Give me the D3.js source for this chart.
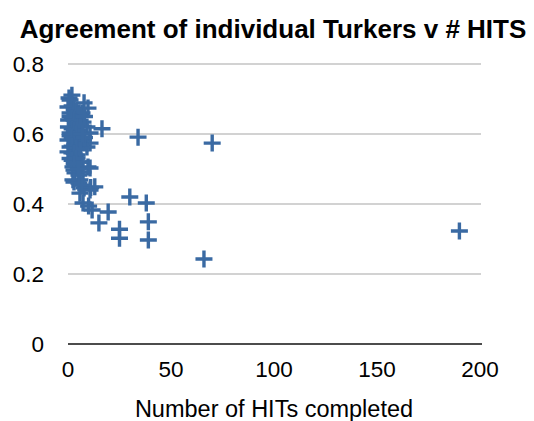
<!DOCTYPE html>
<html><head><meta charset="utf-8">
<script src="https://cdn.jsdelivr.net/npm/d3@7"></script>
<style>body{margin:0;background:#fff}svg{display:block}text{font-family:"Liberation Sans",Arial,Helvetica,sans-serif}</style>
</head><body><div id="chart"></div>
<script>
const title = "Agreement of individual Turkers v # HITS";
const xLabel = "Number of HITs completed";
const xTicks = [0, 50, 100, 150, 200];
const yTicks = [0, 0.2, 0.4, 0.6, 0.8];
const hits = [190,66,70,34,38,39,39,30,25,25,19.5,15,11,13,10,16.5,
  1.9,0.5,7.8,9.7,1,0,1,6.8,0.3,7.3,0.2,9.2,1,5.8,10.7,0,7.3,10.7,1,9.2,0,4.4,5.8,2.4,9.7,3.4,7.3,2.4,5.8,
  1.9,4.4,6.8,3.4,10.7,2.9,5.3,2.9,5.3,7.8,10.7,5.8,6.8,7.3,11.7,
  2,3,4,5,1,2,3,4,5,6,2,3,4,1,2,3,5,6,8,2,4,6,3,1,2,4,3,5,7,8];
const agreement = [0.323,0.243,0.574,0.591,0.403,0.349,0.297,0.42,0.328,0.302,0.377,0.346,0.447,0.449,0.394,0.615,
  0.711,0.703,0.689,0.674,0.697,0.677,0.66,0.66,0.64,0.634,0.62,0.62,0.603,0.603,0.603,0.583,0.583,0.574,0.563,0.563,0.549,0.54,0.52,0.506,0.506,0.489,0.491,0.469,0.469,
  0.546,0.531,0.52,0.511,0.503,0.497,0.483,0.463,0.46,0.446,0.44,0.431,0.454,0.403,0.383,
  0.68,0.67,0.665,0.655,0.65,0.645,0.64,0.635,0.63,0.625,0.615,0.61,0.6,0.595,0.59,0.585,0.575,0.57,0.59,0.565,0.56,0.555,0.545,0.53,0.525,0.53,0.515,0.5,0.6,0.65];

const W = 534, H = 421;
const svg = d3.select("#chart").append("svg").attr("width", W).attr("height", H);
const x = d3.scaleLinear().domain([0, 200]).range([68, 480]);
const y = d3.scaleLinear().domain([0, 0.8]).range([344, 64]);

svg.append("text").attr("x", 273).attr("y", 38).attr("text-anchor", "middle")
  .attr("font-weight", "bold").attr("font-size", 26).attr("fill", "#000").text(title);

// gridlines
svg.append("g").selectAll("line").data(yTicks.filter(d => d > 0)).join("line")
  .attr("x1", 68).attr("x2", 481).attr("y1", d => y(d)).attr("y2", d => y(d))
  .attr("stroke", "#c3c3c3").attr("stroke-width", 1.5);
// baseline
svg.append("line").attr("x1", 68).attr("x2", 482).attr("y1", y(0)).attr("y2", y(0))
  .attr("stroke", "#111").attr("stroke-width", 1.6);

// y labels
svg.append("g").selectAll("text").data(yTicks).join("text")
  .attr("x", 44).attr("y", d => y(d)).attr("dy", "0.36em").attr("text-anchor", "end")
  .attr("font-size", 22.5).attr("fill", "#000").text(d => d === 0 ? "0" : d3.format(".1f")(d));
// x labels
svg.append("g").selectAll("text").data(xTicks).join("text")
  .attr("x", d => x(d)).attr("y", 377).attr("text-anchor", "middle")
  .attr("font-size", 22.5).attr("fill", "#000").text(d => d);
svg.append("text").attr("x", 274).attr("y", 417).attr("text-anchor", "middle")
  .attr("font-size", 23.5).attr("fill", "#000").text(xLabel);

// points
const pts = hits.map((h, i) => ({h, a: agreement[i]}));
const g = svg.append("g");
pts.forEach(p => {
  const cx = x(p.h), cy = y(p.a);
  g.append("path").attr("d", `M${cx-8.5},${cy}H${cx+8.5}M${cx},${cy-8.5}V${cy+8.5}`)
    .attr("stroke", "#3a6aa3").attr("stroke-width", 3.4).attr("fill", "none");
});
</script></body></html>
